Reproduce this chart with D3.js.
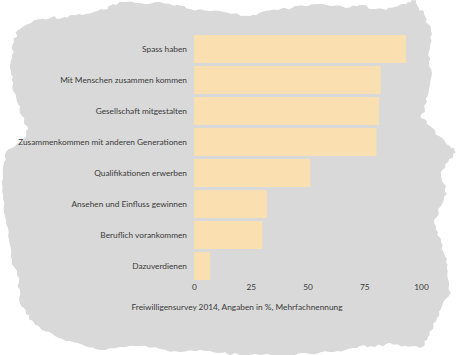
<!DOCTYPE html>
<html>
<head>
<meta charset="utf-8">
<script src="https://cdn.jsdelivr.net/npm/d3@7"></script>
<style>
  html, body { margin: 0; padding: 0; background: #ffffff; }
  svg { display: block; }
</style>
</head>
<body>
<svg id="chart" width="474" height="355"></svg>
<script>
const categories = [
  "Spass haben",
  "Mit Menschen zusammen kommen",
  "Gesellschaft mitgestalten",
  "Zusammenkommen mit anderen Generationen",
  "Qualifikationen erwerben",
  "Ansehen und Einfluss gewinnen",
  "Beruflich vorankommen",
  "Dazuverdienen"
];
const values = [93.4, 82.3, 81.5, 80.4, 51.2, 32.1, 30.1, 7.1];
const tickValues = [0, 25, 50, 75, 100];
const caption = "Freiwilligensurvey 2014, Angaben in %, Mehrfachnennung";

const svg = d3.select("#chart");
const font = "Lato, 'Open Sans', sans-serif";
const fontSize = "8.3px";

// torn-paper background outline (traced control points)
const outline = [
  [14,42],[18,30],[28,24],[40,19],[52,17],[62,18],[72,15],[86,14],[98,11],[108,9],[113,4],[122,2],
  [140,3],[160,2],[178,5],[190,9],[210,11],[232,14],[250,16],[262,12],[278,10],[292,8],[305,6],
  [318,4],[332,6],[346,8],[360,5],[372,9],[386,10],[398,6],[408,2],[416,0],[419,8],[424,14],
  [428,24],[432,34],[430,48],[429,62],[431,78],[428,95],[425,110],[421,118],[430,126],[439,136],
  [450,146],[456,152],[448,162],[441,172],[444,184],[447,194],[441,206],[434,220],[438,232],
  [441,242],[445,256],[447,268],[449,282],[449,296],[442,306],[437,318],[432,330],[427,340],
  [420,348],[405,346],[390,343],[375,347],[360,346],[345,350],[330,352],[310,354],[290,355],
  [260,355],[240,355],[220,353],[200,350],[180,352],[160,349],[140,346],[120,347],[100,350],
  [85,346],[70,341],[55,336],[42,330],[34,323],[26,314],[20,303],[20,290],[17,275],[12,260],
  [10,245],[8,228],[4,212],[3,195],[3,178],[4,162],[6,152],[16,145],[26,136],[27,126],[22,116],
  [18,104],[14,92],[12,80],[10,68],[12,55]
];
// add small deterministic roughness between control points
function hash(i){ const s = Math.sin(i*12.9898)*43758.5453; return s - Math.floor(s); }
const rough = [];
let k = 0;
for (let i = 0; i < outline.length; i++) {
  const a = outline[i], b = outline[(i+1) % outline.length];
  const n = 4;
  for (let j = 0; j < n; j++) {
    const t = j / n;
    const px = a[0] + (b[0]-a[0])*t;
    const py = a[1] + (b[1]-a[1])*t;
    const dx = b[0]-a[0], dy = b[1]-a[1];
    const len = Math.hypot(dx, dy) || 1;
    const nx = -dy/len, ny = dx/len;
    const off = j === 0 ? 0 : (hash(k++) - 0.5) * 3.2;
    rough.push([px + nx*off, py + ny*off]);
  }
}
svg.append("path")
  .attr("d", d3.line().curve(d3.curveLinearClosed)(rough))
  .attr("fill", "#d9d9d9");

// scales
const x = d3.scaleLinear().domain([0, 100]).range([194, 421]);
const y = d3.scaleBand().domain(categories).range([35, 280]).paddingInner(0.1).paddingOuter(0);

// bars
svg.append("g").selectAll("rect")
  .data(categories)
  .join("rect")
  .attr("x", x(0))
  .attr("y", d => y(d))
  .attr("width", (d, i) => x(values[i]) - x(0))
  .attr("height", y.bandwidth())
  .attr("fill", "#fae0b0");

// category labels
const yAxis = svg.append("g")
  .attr("transform", `translate(${x(0) - 1},0)`)
  .call(d3.axisLeft(y).tickSize(0).tickPadding(6));
yAxis.select(".domain").remove();
yAxis.selectAll("text")
  .attr("fill", "#3a3a3a")
  .style("font-family", font)
  .style("font-size", fontSize);

// x axis tick labels
const xAxis = svg.append("g")
  .attr("transform", "translate(0,282)")
  .call(d3.axisBottom(x).tickValues(tickValues).tickSize(0).tickPadding(2));
xAxis.select(".domain").remove();
xAxis.selectAll("text")
  .attr("fill", "#3a3a3a")
  .style("font-family", font)
  .style("font-size", fontSize);

// caption
svg.append("text")
  .attr("x", 237)
  .attr("y", 310)
  .attr("text-anchor", "middle")
  .attr("fill", "#3a3a3a")
  .style("font-family", font)
  .style("font-size", fontSize)
  .text(caption);
</script>
</body>
</html>
